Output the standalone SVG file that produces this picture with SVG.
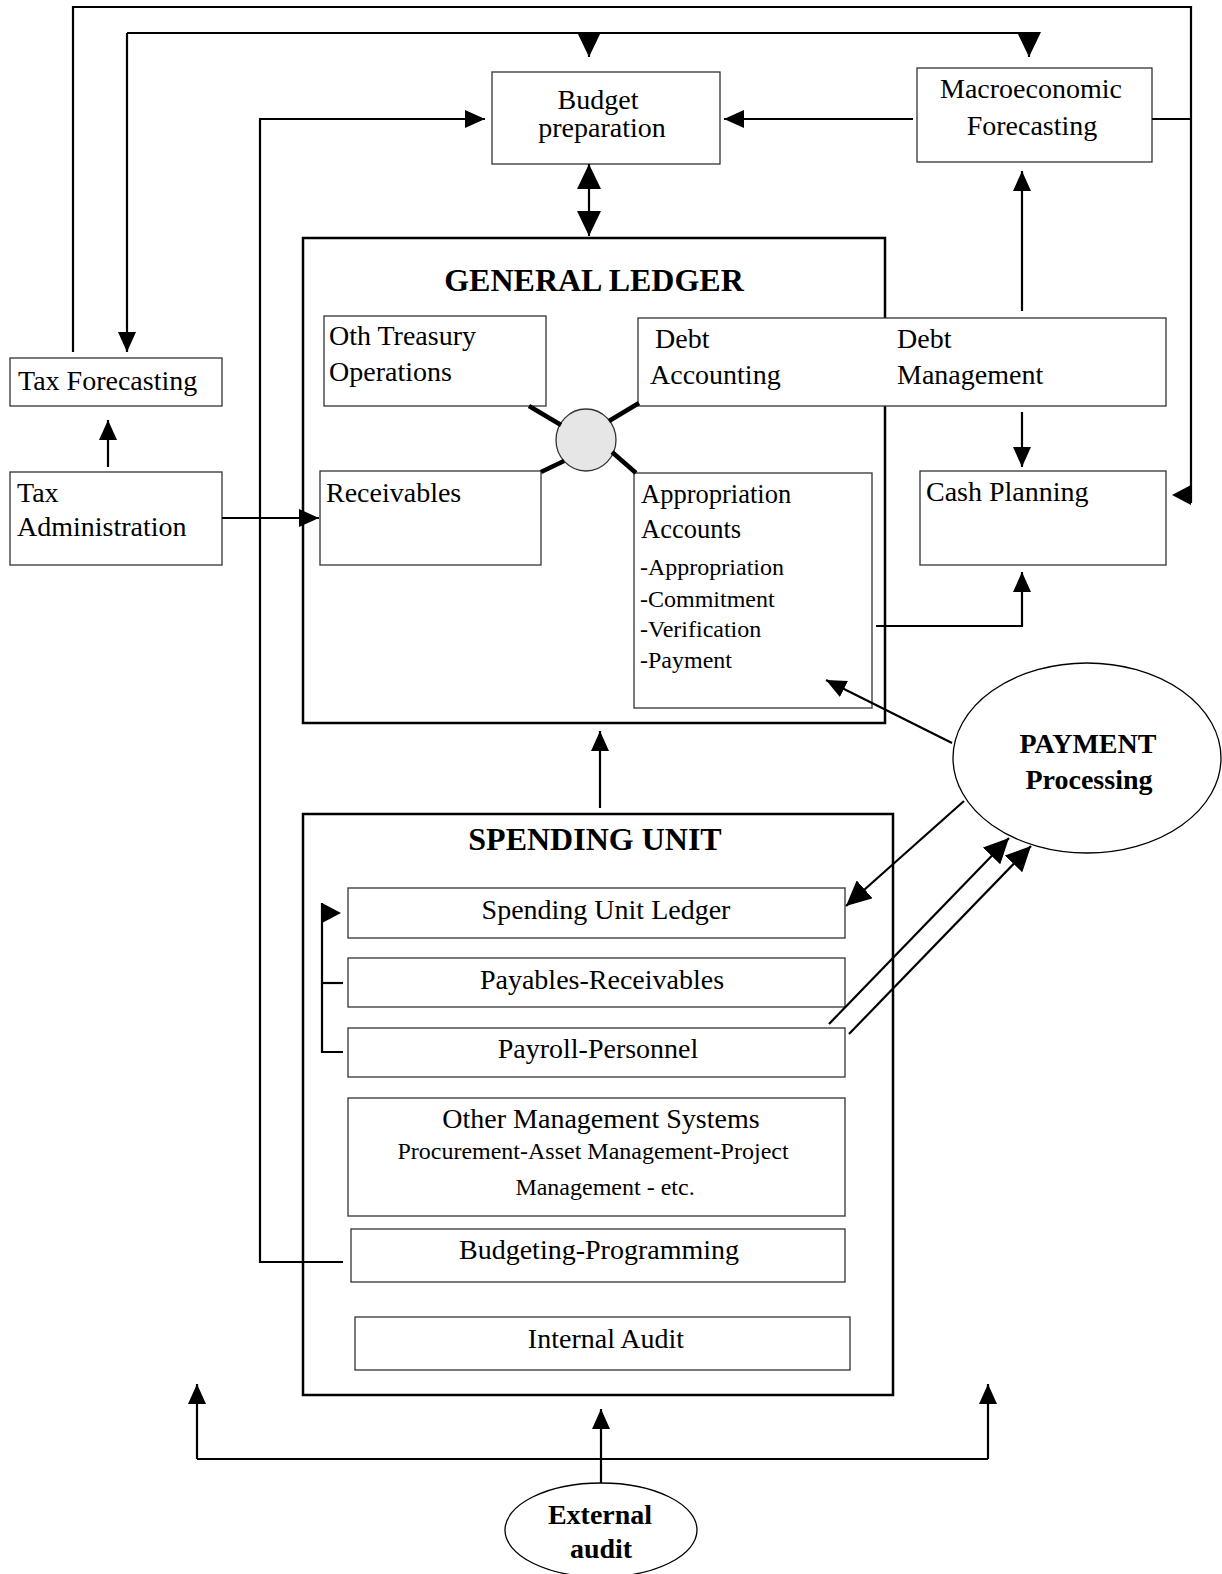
<svg xmlns="http://www.w3.org/2000/svg" width="1222" height="1574" viewBox="0 0 1222 1574">
<style>
text{font-family:"Liberation Serif","Times New Roman",serif;fill:#000}
.t{font-size:28px}
.s{font-size:24px}
.h{font-size:32px;font-weight:bold}
.b{font-size:28px;font-weight:bold}
.m{text-anchor:middle}
.box{fill:#fff;stroke:#333;stroke-width:1.3}
.big{fill:#fff;stroke:#000;stroke-width:2.5}
.c{fill:none;stroke:#000;stroke-width:2.2}
.k{fill:none;stroke:#000;stroke-width:4.5}
</style>
<defs>
<marker id="a" markerUnits="userSpaceOnUse" markerWidth="20" markerHeight="18" refX="20" refY="9" orient="auto"><path d="M0,0 L20,9 L0,18 z" fill="#000"/></marker>
<marker id="A" markerUnits="userSpaceOnUse" markerWidth="25" markerHeight="24" refX="25" refY="12" orient="auto"><path d="M0,0 L25,12 L0,24 z" fill="#000"/></marker>
</defs>
<rect width="1222" height="1574" fill="#fff"/>

<g id="general-ledger">
<rect class="big" x="303" y="238" width="582" height="485"/>
<text class="h m" x="594" y="291">GENERAL LEDGER</text>
</g>
<g id="spending-unit">
<rect class="big" x="303" y="814" width="590" height="581"/>
<text class="h m" x="595" y="850">SPENDING UNIT</text>
</g>
<g id="budget-preparation">
<rect class="box" x="492" y="72" width="228" height="92"/>
<text class="t m" x="598" y="109">Budget</text>
<text class="t m" x="602" y="137">preparation</text>
</g>
<g id="macroeconomic-forecasting">
<rect class="box" x="917" y="68" width="235" height="94"/>
<text class="t m" x="1031" y="98">Macroeconomic</text>
<text class="t m" x="1032" y="135">Forecasting</text>
</g>
<g id="tax-forecasting">
<rect class="box" x="10" y="358" width="212" height="48"/>
<text class="t" x="18" y="390">Tax Forecasting</text>
</g>
<g id="tax-administration">
<rect class="box" x="10" y="472" width="212" height="93"/>
<text class="t" x="17" y="502">Tax</text>
<text class="t" x="17" y="536">Administration</text>
</g>
<g id="oth-treasury">
<rect class="box" x="324" y="316" width="222" height="90"/>
<text class="t" x="329" y="345">Oth Treasury</text>
<text class="t" x="329" y="381">Operations</text>
</g>
<g id="debt">
<rect class="box" x="638" y="318" width="528" height="88"/>
<text class="t" x="655" y="348">Debt</text>
<text class="t" x="650" y="384">Accounting</text>
<text class="t" x="897" y="348">Debt</text>
<text class="t" x="897" y="384">Management</text>
</g>
<g id="hub">
<ellipse cx="586" cy="440" rx="30" ry="31" fill="#e6e6e6" stroke="#333" stroke-width="1.3"/>
</g>
<g id="receivables">
<rect class="box" x="320" y="471" width="221" height="94"/>
<text class="t" x="326" y="502">Receivables</text>
</g>
<g id="appropriation-accounts">
<rect class="box" x="634" y="473" width="238" height="235"/>
<text class="t" x="641" y="503" style="font-size:26.5px">Appropriation</text>
<text class="t" x="641" y="538" style="font-size:26.5px">Accounts</text>
<text class="s" x="640" y="575">-Appropriation</text>
<text class="s" x="640" y="607">-Commitment</text>
<text class="s" x="640" y="637">-Verification</text>
<text class="s" x="640" y="668">-Payment</text>
</g>
<g id="cash-planning">
<rect class="box" x="920" y="471" width="246" height="94"/>
<text class="t" x="926" y="501">Cash Planning</text>
</g>
<g id="payment-processing">
<ellipse cx="1087" cy="758" rx="134" ry="95" fill="#fff" stroke="#000" stroke-width="1.3"/>
<text class="b m" x="1088" y="753">PAYMENT</text>
<text class="b m" x="1089" y="789">Processing</text>
</g>
<g id="spending-unit-ledger">
<rect class="box" x="348" y="888" width="497" height="50"/>
<text class="t m" x="606" y="919">Spending Unit Ledger</text>
</g>
<g id="payables-receivables">
<rect class="box" x="348" y="958" width="497" height="49"/>
<text class="t m" x="602" y="989">Payables-Receivables</text>
</g>
<g id="payroll-personnel">
<rect class="box" x="348" y="1028" width="497" height="49"/>
<text class="t m" x="598" y="1058">Payroll-Personnel</text>
</g>
<g id="other-management-systems">
<rect class="box" x="348" y="1098" width="497" height="118"/>
<text class="t m" x="601" y="1128">Other Management Systems</text>
<text class="s m" x="593" y="1159">Procurement-Asset Management-Project</text>
<text class="s m" x="605" y="1195">Management - etc.</text>
</g>
<g id="budgeting-programming">
<rect class="box" x="351" y="1229" width="494" height="53"/>
<text class="t m" x="599" y="1259">Budgeting-Programming</text>
</g>
<g id="internal-audit">
<rect class="box" x="355" y="1317" width="495" height="53"/>
<text class="t m" x="606" y="1348">Internal Audit</text>
</g>
<g id="external-audit">
<ellipse cx="601" cy="1530" rx="96" ry="47" fill="#fff" stroke="#000" stroke-width="1.3"/>
<text class="b m" x="600" y="1524">External</text>
<text class="b m" x="601" y="1558">audit</text>
</g>

<g id="connectors">
<polyline class="c" points="73,352 73,7 1191,7 1191,503"/>
<polygon points="1191,485 1172,495 1191,505" fill="#000"/>
<polyline class="c" points="127,33 1029,33"/>
<line class="c" x1="127" y1="33" x2="127" y2="352" marker-end="url(#a)"/>
<line class="c" x1="589" y1="33" x2="589" y2="57" marker-end="url(#A)"/>
<line class="c" x1="1029" y1="33" x2="1029" y2="57" marker-end="url(#A)"/>
<polyline class="c" points="343,1262 260,1262 260,119 485,119" marker-end="url(#a)"/>
<line class="c" x1="913" y1="119" x2="724" y2="119" marker-end="url(#a)"/>
<line class="c" x1="1152" y1="119" x2="1191" y2="119"/>
<line class="c" x1="589" y1="200" x2="589" y2="164" marker-end="url(#A)"/>
<line class="c" x1="589" y1="200" x2="589" y2="236" marker-end="url(#A)"/>
<line class="c" x1="108" y1="467" x2="108" y2="420" marker-end="url(#a)"/>
<line class="c" x1="222" y1="518" x2="319" y2="518" marker-end="url(#a)"/>
<line class="c" x1="1022" y1="311" x2="1022" y2="171" marker-end="url(#a)"/>
<line class="c" x1="1022" y1="412" x2="1022" y2="467" marker-end="url(#a)"/>
<polyline class="c" points="876,626 1022,626 1022,572" marker-end="url(#a)"/>
<line class="c" x1="952" y1="743" x2="826" y2="680" marker-end="url(#a)"/>
<line class="c" x1="964" y1="801" x2="846" y2="906" marker-end="url(#A)"/>
<line class="c" x1="829" y1="1024" x2="1009" y2="838" marker-end="url(#A)"/>
<line class="c" x1="849" y1="1034" x2="1031" y2="846" marker-end="url(#A)"/>
<line class="c" x1="600" y1="808" x2="600" y2="731" marker-end="url(#a)"/>
<polyline class="c" points="343,983 322,983"/>
<polyline class="c" points="343,1052 322,1052 322,903"/>
<polygon points="322,903 341,913 322,923" fill="#000"/>
<line class="c" x1="197" y1="1459" x2="988" y2="1459"/>
<line class="c" x1="197" y1="1459" x2="197" y2="1384" marker-end="url(#a)"/>
<line class="c" x1="988" y1="1459" x2="988" y2="1384" marker-end="url(#a)"/>
<line class="c" x1="601" y1="1483" x2="601" y2="1409" marker-end="url(#a)"/>
<line class="k" x1="529" y1="406" x2="561" y2="425"/>
<line class="k" x1="639" y1="403" x2="609" y2="421"/>
<line class="k" x1="541" y1="472" x2="564" y2="461"/>
<line class="k" x1="612" y1="452" x2="636" y2="473"/>
</g>
</svg>
